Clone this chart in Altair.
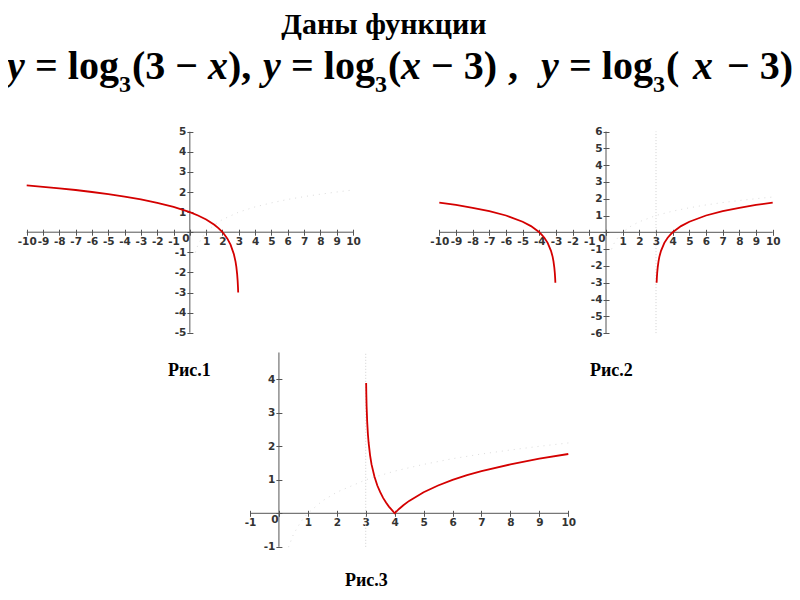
import altair as alt
import pandas as pd

# ---------------- data ----------------
# Рис.1 : y = log3(3 - x)
p1_x = [-10, -9, -8, -7, -6, -5, -4, -3, -2, -1, 0, 0.5, 1, 1.5, 1.75, 2, 2.15, 2.3, 2.5, 2.7, 2.8, 2.85, 2.9, 2.93, 2.95, 2.963]
p1_y = [2.33, 2.26, 2.18, 2.10, 2.00, 1.89, 1.77, 1.63, 1.46, 1.26, 1.00, 0.83, 0.63, 0.37, 0.20, 0.00, -0.15, -0.32, -0.63, -1.10, -1.46, -1.73, -2.10, -2.42, -2.73, -3.00]

# Рис.2 : y = log3(|x| - 3)  (left and right branch)
p2_left_x = [-10, -9, -8, -7, -6, -5, -4.5, -4, -3.85, -3.7, -3.5, -3.3, -3.2, -3.15, -3.1, -3.07, -3.05, -3.037]
p2_right_x = [10, 9, 8, 7, 6, 5, 4.5, 4, 3.85, 3.7, 3.5, 3.3, 3.2, 3.15, 3.1, 3.07, 3.05, 3.037]
p2_y = [1.77, 1.63, 1.46, 1.26, 1.00, 0.63, 0.37, 0.00, -0.15, -0.32, -0.63, -1.10, -1.46, -1.73, -2.10, -2.42, -2.73, -3.00]

# Рис.3 : y = |log3(x - 3)|
p3_x = [3.014, 3.02, 3.03, 3.05, 3.075, 3.1, 3.15, 3.2, 3.3, 3.4, 3.5, 3.6, 3.7, 3.8, 3.9, 4.0, 4.15, 4.3, 4.5, 5, 5.5, 6, 6.5, 7, 8, 9, 10]
p3_y = [3.89, 3.56, 3.19, 2.73, 2.36, 2.10, 1.73, 1.46, 1.10, 0.83, 0.63, 0.46, 0.32, 0.20, 0.10, 0.00, 0.13, 0.24, 0.37, 0.63, 0.83, 1.00, 1.14, 1.26, 1.46, 1.63, 1.77]

# faint dotted guide curve visible in every panel (y = log3 x)
g_x = [0.33, 0.5, 0.75, 1, 1.5, 2, 3, 4, 5, 6, 7, 8, 9, 10]
g_y = [-1.01, -0.63, -0.26, 0.00, 0.37, 0.63, 1.00, 1.26, 1.46, 1.63, 1.77, 1.89, 2.00, 2.10]

# axis tick values
p1_xticks = list(range(-10, 11))
p1_yticks = list(range(-5, 6))
p2_xticks = list(range(-10, 11))
p2_yticks = list(range(-6, 7))
p3_xticks = list(range(-1, 11))
p3_yticks = list(range(-1, 5))

title_text = "Даны функции"
captions = ["Рис.1", "Рис.2", "Рис.3"]

# ---------------- layout ----------------
W, H = 784, 584
M = 8  # page margin
RED = "#d40000"
LBL = 10.5


def panel(curve_df, xdom, xrng, ydom, yrng, xticks, yticks, x0, y0, asym=None):
    common = dict(domain=False, grid=False, tickSize=6, tickColor="#555", tickWidth=1,
                  labelFont="DejaVu Sans", labelFontWeight="bold", labelFontSize=LBL,
                  labelColor="#333", labelPadding=1, labelFlush=False, labelOverlap=False,
                  format="d", labelExpr="datum.value == 0 ? '' : replace(datum.label, '−', '-')",
                  title=None)
    xa = alt.Axis(orient="bottom", values=xticks, offset=y0 - 3 - H, **common)
    ya = alt.Axis(orient="left", values=yticks, offset=-(x0 + 3), **common)
    X = alt.X("x:Q", scale=alt.Scale(domain=xdom, range=xrng, nice=False, zero=False), axis=xa)
    Y = alt.Y("y:Q", scale=alt.Scale(domain=ydom, range=yrng, nice=False, zero=False), axis=ya)

    lines_df = pd.DataFrame({"x": [xdom[0], 0], "x2": [xdom[1], 0],
                             "y": [0, ydom[0]], "y2": [0, ydom[1]]})
    axis_lines = alt.Chart(lines_df).mark_rule(color="#555", strokeWidth=1).encode(
        x=X, x2="x2:Q", y=Y, y2="y2:Q")

    guide_df = pd.DataFrame({"x": g_x, "y": g_y})
    guide = alt.Chart(guide_df).mark_line(color="#dcdcdc", strokeWidth=1,
                                          strokeDash=[1, 5], clip=True).encode(x=X, y=Y)

    layers = [guide]
    if asym is not None:
        asym_df = pd.DataFrame({"x": [asym], "y": [ydom[0]], "y2": [ydom[1]]})
        layers.append(alt.Chart(asym_df).mark_rule(color="#d0d0d0", strokeWidth=1,
                                                    strokeDash=[1, 2]).encode(x=X, y=Y, y2="y2:Q"))
    layers.append(axis_lines)

    zero_df = pd.DataFrame({"x": [0], "y": [0], "t": ["0"]})
    layers.append(alt.Chart(zero_df).mark_text(font="DejaVu Sans", fontWeight="bold", fontSize=LBL,
                                               color="#333", dx=-4, dy=2, baseline="top").encode(
        x=X, y=Y, text="t:N"))

    curve = alt.Chart(curve_df).mark_line(color=RED, strokeWidth=1.8, clip=True).encode(
        x=X, y=Y, detail="b:N")
    layers.append(curve)
    return alt.layer(*layers)


df1 = pd.DataFrame({"x": p1_x, "y": p1_y, "b": "a"})
df2 = pd.concat([pd.DataFrame({"x": p2_left_x, "y": p2_y, "b": "l"}),
                 pd.DataFrame({"x": p2_right_x, "y": p2_y, "b": "r"})])
df3 = pd.DataFrame({"x": p3_x, "y": p3_y, "b": "a"})

# pixel geometry (chart coordinates = page - 8)
pan1 = panel(df1, [-10, 10], [18.7, 345.0], [-5, 5], [324.7, 123.7],
             p1_xticks, p1_yticks, x0=181.9, y0=224.2)
pan2 = panel(df2, [-10, 10], [431.3, 764.7], [-6, 6], [325.1, 123.5],
             p2_xticks, p2_yticks, x0=598.0, y0=224.3, asym=3)
pan3 = panel(df3, [-1, 10], [242.0, 560.3], [-1, 4.8], [538.8, 344.5],
             p3_xticks, p3_yticks, x0=270.9, y0=505.3, asym=3)

SERIF = "Liberation Serif"


def txt(s, px, py, size, italic=False, align="left"):
    return alt.Chart(pd.DataFrame({"t": [s]})).mark_text(
        font=SERIF, fontSize=size, fontWeight="bold",
        fontStyle="italic" if italic else "normal", align=align,
        baseline="alphabetic", color="black").encode(
        x=alt.value(px - M), y=alt.value(py - M), text="t:N")


FS, SUB = 40, 24
BL, SBL = 79, 92
# formula pieces: (text, offset from start of its group, italic); no leading spaces
groups = [
    (7, [("y", 0, True), ("= log", 28, False), ("(3 −", 125, False), ("x", 201, True), ("),", 221, False)]),
    (263, [("y", 0, True), ("= log", 28, False), ("(", 125, False), ("x", 138, True), ("− 3)", 168, False),
           (",", 245, False)]),
    (541, [("y", 0, True), ("= log", 28, False), ("(", 125, False), ("x", 152, True), ("− 3)", 186, False)]),
]
sub_off = 112

texts = [txt(title_text, 384, 34, 30, align="center")]
for start, pieces in groups:
    for s, off, it in pieces:
        texts.append(txt(s, start + off, BL, FS, italic=it))
    texts.append(txt("3", start + sub_off, SBL, SUB))
texts += [txt(captions[0], 168, 376, 18), txt(captions[1], 590, 376, 18), txt(captions[2], 345, 586, 18)]

chart = alt.layer(pan1, pan2, pan3, *texts).resolve_scale(
    x="independent", y="independent").properties(
    width=W, height=H, padding=0, autosize=alt.AutoSizeParams(type="none")
).configure_view(stroke=None)

chart.save("out.html", embed_options={"renderer": "svg", "actions": False})
